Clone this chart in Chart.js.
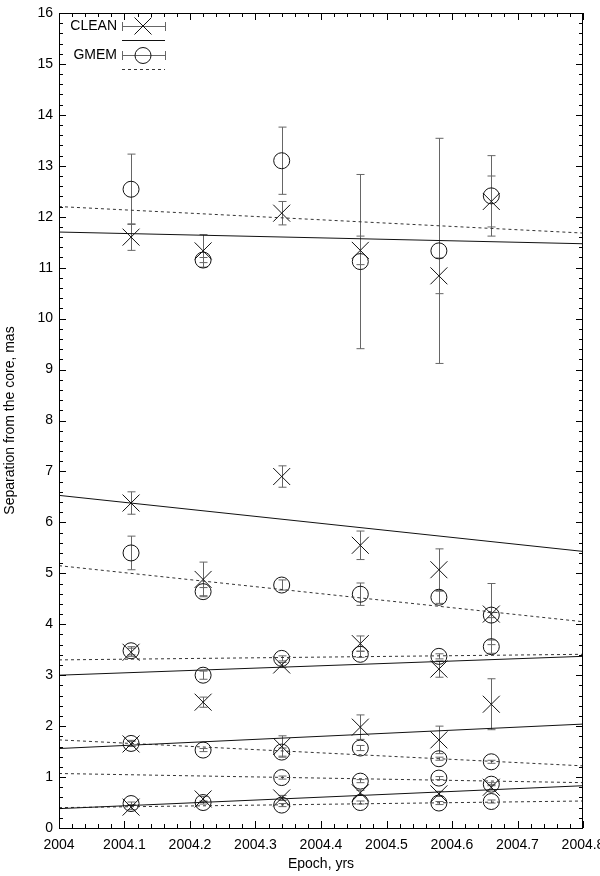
<!DOCTYPE html>
<html>
<head>
<meta charset="utf-8">
<script src="https://cdn.jsdelivr.net/npm/chart.js@4.4.1/dist/chart.umd.min.js"></script>
<style>
  html, body { margin: 0; padding: 0; background: #fff; }
  #wrap { width: 600px; height: 876px; }
</style>
</head>
<body>
<div id="wrap"><canvas id="chart" width="600" height="876"></canvas></div>
<script>
const epochs = [2004.11, 2004.22, 2004.34, 2004.46, 2004.58, 2004.66];
const xTicks = [2004, 2004.1, 2004.2, 2004.3, 2004.4, 2004.5, 2004.6, 2004.7, 2004.8];

// CLEAN components (null = not seen at that epoch)
const cleanA = [11.60, 11.33, 12.07, 11.34, 10.84, 12.30];
const cleanAErr = [0.26, 0.32, 0.23, 0.28, 0.35, 0.50];
const cleanB = [6.38, 4.88, 6.90, 5.55, 5.07, 4.20];
const cleanBErr = [0.22, 0.34, 0.21, 0.28, 0.41, 0.60];
const cleanC = [3.45, 2.47, 3.20, 3.62, 3.12, 2.43];
const cleanCErr = [0.08, 0.10, 0.05, 0.15, 0.16, 0.50];
const cleanD = [1.65, null, 1.60, 1.98, 1.73, null];
const cleanDErr = [0.05, 0, 0.21, 0.24, 0.27, 0];
const cleanE = [0.41, 0.57, 0.59, 0.69, 0.67, 0.80];
const cleanEErr = [0.05, 0.05, 0.05, 0.05, 0.05, 0.05];

// GMEM components
const gmemA = [12.54, 11.15, 13.10, 11.12, 11.33, 12.41];
const gmemAErr = [0.69, 0.05, 0.66, 1.71, 2.21, 0.79];
const gmemB = [5.40, 4.64, 4.77, 4.59, 4.53, 4.18];
const gmemBErr = [0.33, 0.08, 0.10, 0.22, 0.12, 0.05];
const gmemC = [3.48, 3.00, 3.33, 3.41, 3.37, 3.56];
const gmemCErr = [0.08, 0.08, 0.05, 0.06, 0.05, 0.13];
const gmemD = [1.66, 1.53, 1.49, 1.57, 1.36, 1.30];
const gmemDErr = [0.06, 0.03, 0.08, 0.05, 0.03, 0.03];
const gmemE = [null, null, 0.99, 0.92, 0.98, 0.86];
const gmemEErr = [0, 0, 0.03, 0.03, 0.03, 0.03];
const gmemF = [0.48, 0.50, 0.45, 0.50, 0.49, 0.52];
const gmemFErr = [0.03, 0.03, 0.03, 0.03, 0.03, 0.03];

// linear fits, value at 2004.0 and at 2004.8
const fitEpochs = [2004.0, 2004.8];
const cleanFits = [[11.70, 11.47], [6.53, 5.43], [3.00, 3.37], [1.56, 2.04], [0.38, 0.83]];
const gmemFits = [[12.20, 11.68], [5.15, 4.05], [3.30, 3.41], [1.73, 1.22], [1.07, 0.89], [0.40, 0.53]];

const FONT = "'Liberation Sans', Arial, Helvetica, sans-serif";

const points = (vals) => epochs.map((x, i) => ({ x: x, y: vals[i] }));

const cleanSets = [
  [cleanA, cleanAErr], [cleanB, cleanBErr], [cleanC, cleanCErr],
  [cleanD, cleanDErr], [cleanE, cleanEErr]
];
const gmemSets = [
  [gmemA, gmemAErr], [gmemB, gmemBErr], [gmemC, gmemCErr],
  [gmemD, gmemDErr], [gmemE, gmemEErr], [gmemF, gmemFErr]
];

let datasets = [];

cleanFits.forEach(f => {
  datasets.push({
    type: "line", data: fitEpochs.map((x, i) => ({ x: x, y: f[i] })),
    borderColor: "#111", borderWidth: 1, pointRadius: 0, fill: false
  });
});
gmemFits.forEach(f => {
  datasets.push({
    type: "line", data: fitEpochs.map((x, i) => ({ x: x, y: f[i] })),
    borderColor: "#333", borderWidth: 1, borderDash: [3, 3], pointRadius: 0, fill: false
  });
});
cleanSets.forEach(s => {
  datasets.push({
    data: points(s[0]), errors: s[1],
    pointStyle: "crossRot", pointRadius: 12, borderColor: "#111",
    backgroundColor: "rgba(0,0,0,0)", borderWidth: 1, showLine: false
  });
});
gmemSets.forEach(s => {
  datasets.push({
    data: points(s[0]), errors: s[1],
    pointStyle: "circle", pointRadius: 8, borderColor: "#111",
    backgroundColor: "rgba(0,0,0,0)", borderWidth: 1, showLine: false
  });
});

const errorBars = {
  id: "errorBars",
  beforeDatasetsDraw(chart) {
    const ctx = chart.ctx, xs = chart.scales.x, ys = chart.scales.y;
    ctx.save();
    ctx.strokeStyle = "#666";
    ctx.lineWidth = 1;
    chart.data.datasets.forEach(ds => {
      if (!ds.errors) return;
      ds.data.forEach((p, i) => {
        const e = ds.errors[i];
        if (p.y == null || !e) return;
        const px = Math.round(xs.getPixelForValue(p.x)) + 0.5;
        const top = ys.getPixelForValue(p.y + e);
        const bot = ys.getPixelForValue(p.y - e);
        ctx.beginPath();
        ctx.moveTo(px, top); ctx.lineTo(px, bot);
        ctx.moveTo(px - 4, top); ctx.lineTo(px + 4, top);
        ctx.moveTo(px - 4, bot); ctx.lineTo(px + 4, bot);
        ctx.stroke();
      });
    });
    ctx.restore();
  }
};

const frame = {
  id: "frame",
  afterDraw(chart) {
    const ctx = chart.ctx, a = chart.chartArea;
    const xs = chart.scales.x, ys = chart.scales.y;
    ctx.save();
    ctx.strokeStyle = "#000";
    ctx.lineWidth = 1;
    ctx.strokeRect(Math.round(a.left) + 0.5, Math.round(a.top) + 0.5,
      Math.round(a.right - a.left) - 1, Math.round(a.bottom - a.top));
    ctx.beginPath();
    for (let k = 0; k <= 40; k++) {
      const px = Math.round(xs.getPixelForValue(2004 + k * 0.02)) + 0.5;
      const len = k % 5 === 0 ? 7 : 4;
      ctx.moveTo(px, a.bottom); ctx.lineTo(px, a.bottom - len);
      ctx.moveTo(px, a.top); ctx.lineTo(px, a.top + len);
    }
    for (let k = 0; k <= 80; k++) {
      const py = Math.round(ys.getPixelForValue(k * 0.2)) + 0.5;
      const len = k % 5 === 0 ? 7 : 4;
      ctx.moveTo(a.left, py); ctx.lineTo(a.left + len, py);
      ctx.moveTo(a.right, py); ctx.lineTo(a.right - len, py);
    }
    ctx.stroke();

    // x tick labels
    ctx.fillStyle = "#000";
    ctx.font = "14px " + FONT;
    ctx.textAlign = "center";
    ctx.textBaseline = "middle";
    xTicks.forEach(v => {
      ctx.fillText(String(v), xs.getPixelForValue(v), a.bottom + 17);
    });

    // legend
    const lx0 = 122, lx1 = 165, mx = 143;
    ctx.textAlign = "right";
    ctx.fillText("CLEAN", 117, 26);
    ctx.fillText("GMEM", 117, 55);
    ctx.strokeStyle = "#666";
    ctx.beginPath();
    [26, 55].forEach(y => {
      ctx.moveTo(lx0, y + 0.5); ctx.lineTo(lx1, y + 0.5);
      ctx.moveTo(lx0 + 0.5, y - 4); ctx.lineTo(lx0 + 0.5, y + 5);
      ctx.moveTo(lx1 + 0.5, y - 4); ctx.lineTo(lx1 + 0.5, y + 5);
    });
    ctx.stroke();
    ctx.strokeStyle = "#111";
    ctx.beginPath();
    const d = 8.5;
    ctx.moveTo(mx - d, 26 - d); ctx.lineTo(mx + d, 26 + d);
    ctx.moveTo(mx - d, 26 + d); ctx.lineTo(mx + d, 26 - d);
    ctx.moveTo(mx + 8, 55.5);
    ctx.arc(mx, 55.5, 8, 0, Math.PI * 2);
    ctx.moveTo(lx0, 40.5); ctx.lineTo(lx1, 40.5);
    ctx.stroke();
    ctx.strokeStyle = "#333";
    ctx.setLineDash([3, 3]);
    ctx.beginPath();
    ctx.moveTo(lx0, 69.5); ctx.lineTo(lx1, 69.5);
    ctx.stroke();
    ctx.restore();
  }
};

const config = {
  type: "scatter",
  data: { datasets: datasets },
  options: {
    responsive: false,
    animation: false,
    events: [],
    layout: { padding: { top: 10, right: 17, left: 0, bottom: 0 } },
    plugins: { legend: { display: false }, tooltip: { enabled: false } },
    scales: {
      x: {
        type: "linear", min: 2004, max: 2004.8,
        grid: { display: false, drawTicks: false },
        border: { display: false },
        ticks: { display: false, stepSize: 0.1 },
        title: {
          display: true, text: "Epoch, yrs", color: "#000",
          font: { family: FONT, size: 14 }, padding: { top: 0, bottom: 3 }
        },
        afterFit: s => { s.height = 48; s.paddingLeft = 0; s.paddingRight = 0; }
      },
      y: {
        type: "linear", min: 0, max: 16,
        grid: { display: false, drawTicks: false },
        border: { display: false },
        ticks: {
          stepSize: 1, padding: 6, color: "#000",
          font: { family: FONT, size: 14 }
        },
        title: {
          display: true, text: "Separation from the core, mas", color: "#000",
          font: { family: FONT, size: 14 }, padding: { top: 2, bottom: 0 }
        },
        afterFit: s => { s.width = 59; s.paddingTop = 0; s.paddingBottom = 0; }
      }
    }
  },
  plugins: [errorBars, frame]
};

const chartJs = document.querySelector("#chart");
let mychart = new Chart(chartJs, config);
</script>
</body>
</html>
